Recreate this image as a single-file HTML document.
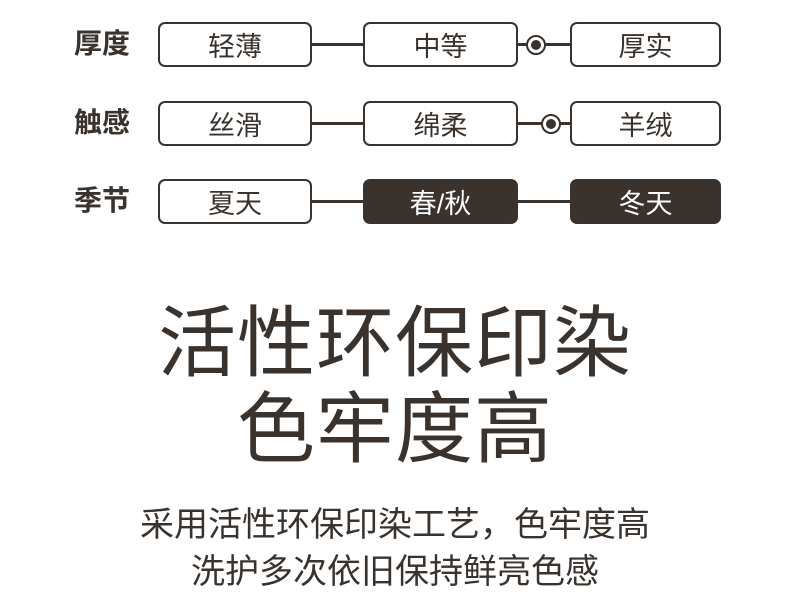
<!DOCTYPE html>
<html><head><meta charset="utf-8"><style>
body{margin:0;width:790px;height:599px;background:#fff;position:relative;overflow:hidden;font-family:"Liberation Sans","Noto Sans CJK SC",sans-serif;color:#3a322c}
.b{position:absolute;box-sizing:border-box;border:2px solid #3a322c;border-radius:7px;background:#fff;font-size:27px;display:flex;align-items:center;justify-content:center;height:45px}
.d{background:#3a322c;color:#fff}
.l{position:absolute;height:3px;background:#3a322c}
.lab{position:absolute;left:74px;font-size:28px;font-weight:bold;line-height:1}
.dot{position:absolute;width:20px;height:20px;border:2px solid #3a322c;border-radius:50%;background:#fff;box-sizing:border-box}
.dot::after{content:"";position:absolute;left:3px;top:3px;width:10px;height:10px;border-radius:50%;background:#3a322c}
.t{position:absolute;left:0;width:790px;text-align:center}
</style></head><body>
<div class="lab" style="top:30px">厚度</div>
<div class="lab" style="top:109px">触感</div>
<div class="lab" style="top:187px">季节</div>

<div class="l" style="left:310px;top:43px;width:56px"></div>
<div class="l" style="left:516px;top:43px;width:56px"></div>
<div class="l" style="left:310px;top:122px;width:56px"></div>
<div class="l" style="left:516px;top:122px;width:56px"></div>
<div class="l" style="left:310px;top:200px;width:56px"></div>
<div class="l" style="left:516px;top:200px;width:56px"></div>

<div class="b" style="left:158px;top:22px;width:154px">轻薄</div>
<div class="b" style="left:363px;top:22px;width:155px">中等</div>
<div class="b" style="left:570px;top:22px;width:151px">厚实</div>
<div class="b" style="left:158px;top:101px;width:154px">丝滑</div>
<div class="b" style="left:363px;top:101px;width:155px">绵柔</div>
<div class="b" style="left:570px;top:101px;width:151px">羊绒</div>
<div class="b" style="left:158px;top:179px;width:154px">夏天</div>
<div class="b d" style="left:363px;top:179px;width:155px">春/秋</div>
<div class="b d" style="left:570px;top:179px;width:151px">冬天</div>

<div class="dot" style="left:526px;top:35px"></div>
<div class="dot" style="left:541px;top:114px"></div>

<div class="t" style="top:300px;font-size:78px;line-height:86px;letter-spacing:1px">活性环保印染<br>色牢度高</div>
<div class="t" style="top:502px;font-size:34px;line-height:47px">采用活性环保印染工艺，色牢度高<br>洗护多次依旧保持鲜亮色感</div>
</body></html>
